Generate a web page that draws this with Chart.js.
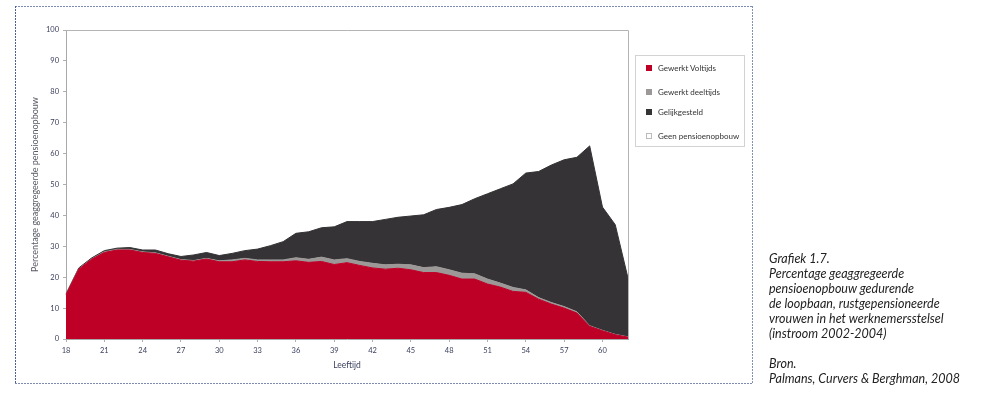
<!DOCTYPE html>
<html>
<head>
<meta charset="utf-8">
<script src="https://cdn.jsdelivr.net/npm/chart.js@4"></script>
<style>
  body { margin: 0; background: #fff; }
  #wrap { position: relative; width: 984px; height: 398px; overflow: hidden; }
  #chartBox { position: absolute; left: 0; top: 0; width: 984px; height: 398px; }
  .edge { position: absolute; }
  .h { height: 1px; background: repeating-linear-gradient(90deg, #7d8bb3 0 2px, transparent 2px 3px); }
  .v { width: 1px; background: repeating-linear-gradient(180deg, #4f5f90 0 2px, transparent 2px 3px); }
  #legend { position: absolute; left: 635px; top: 55px; width: 108px; height: 90px;
            border: 1px solid #d2d2d2; font-family: Lato, sans-serif; font-size: 8px; color: #333; }
  .item { position: absolute; left: 10px; white-space: nowrap; line-height: 10px; }
  .item span { display: inline-block; width: 6px; height: 6px; margin-right: 6px; vertical-align: 0px; box-sizing: border-box; }
  #caption { position: absolute; left: 769px; top: 251px; font-family: Lato, sans-serif; font-style: italic;
             font-size: 12.5px; line-height: 15px; color: #222; white-space: nowrap; }
</style>
</head>
<body>
<div id="wrap">
  <div class="edge h" style="left:15px; top:6px; width:738px;"></div>
  <div class="edge h" style="left:15px; top:383px; width:738px;"></div>
  <div class="edge v" style="left:15px; top:6px; height:378px;"></div>
  <div class="edge v" style="left:752px; top:6px; height:378px; background: repeating-linear-gradient(180deg, #8390b8 0 2px, transparent 2px 3px);"></div>
  <div id="chartBox"><canvas id="pensionChart"></canvas></div>
  <div id="legend"></div>
  <div id="caption">
    Grafiek 1.7.<br>
    Percentage geaggregeerde<br>
    pensioenopbouw gedurende<br>
    de loopbaan, rustgepensioneerde<br>
    vrouwen in het werknemersstelsel<br>
    (instroom 2002-2004)<br>
    <br>
    Bron.<br>
    Palmans, Curvers &amp; Berghman, 2008
  </div>
</div>
<script>
// Leeftijd 18 t/m 62
const ages = [18, 19, 20, 21, 22, 23, 24, 25, 26, 27, 28, 29, 30, 31, 32, 33, 34, 35, 36, 37, 38, 39, 40,
              41, 42, 43, 44, 45, 46, 47, 48, 49, 50, 51, 52, 53, 54, 55, 56, 57, 58, 59, 60, 61, 62];

const voltijds = [14.3, 22.6, 25.8, 28.0, 28.8, 28.8, 28.0, 27.7, 26.6, 25.5, 25.2, 25.9, 25.0, 25.0, 25.6,
                  25.1, 25.0, 25.0, 25.3, 24.8, 25.1, 24.1, 24.7, 23.8, 23.0, 22.6, 22.9, 22.4, 21.5, 21.5,
                  20.6, 19.4, 19.4, 17.8, 16.8, 15.4, 15.1, 12.9, 11.3, 10.0, 8.4, 4.1, 2.7, 1.4, 0.6];

const deeltijds = [0.1, 0.1, 0.1, 0.2, 0.2, 0.2, 0.2, 0.2, 0.2, 0.2, 0.2, 0.2, 0.3, 0.6, 0.5,
                   0.5, 0.6, 0.6, 1.0, 1.0, 1.4, 1.5, 1.3, 1.3, 1.5, 1.4, 1.3, 1.6, 1.6, 1.9,
                   1.8, 1.9, 1.7, 1.6, 1.3, 1.3, 0.8, 0.5, 0.5, 0.5, 0.4, 0.2, 0.1, 0.1, 0.1];

const gelijkgesteld = [0.2, 0.3, 0.3, 0.4, 0.4, 0.6, 0.6, 0.9, 0.8, 1.0, 1.8, 1.9, 1.7, 2.1, 2.5,
                       3.5, 4.6, 5.9, 7.9, 8.9, 9.5, 10.7, 12.0, 12.9, 13.5, 14.7, 15.2, 15.8, 17.1, 18.5,
                       20.2, 22.2, 24.3, 27.6, 30.5, 33.5, 37.8, 40.8, 44.5, 47.5, 50.0, 58.2, 39.9, 35.5, 19.0];

const yTicks = [0, 10, 20, 30, 40, 50, 60, 70, 80, 90, 100];

const seriesNames = ['Gewerkt Voltijds', 'Gewerkt deeltijds', 'Gelijkgesteld', 'Geen pensioenopbouw'];
const seriesColors = ['#be0027', '#9c9898', '#353335', '#ffffff'];

// legend (html, like the original boxed legend)
const legendTops = [7, 31, 51, 75];
const legend = document.getElementById('legend');
seriesNames.forEach(function(name, i) {
    const row = document.createElement('div');
    row.className = 'item';
    row.style.top = legendTops[i] + 'px';
    const sw = document.createElement('span');
    sw.style.background = seriesColors[i];
    if (i === 3) sw.style.border = '1px solid #bbb';
    row.appendChild(sw);
    row.appendChild(document.createTextNode(name));
    legend.appendChild(row);
});

// grey frame round the plot area
const frame = {
    id: 'frame',
    afterDraw: function(chart) {
        const a = chart.chartArea;
        const c = chart.ctx;
        c.save();
        c.strokeStyle = '#b4b4b4';
        c.lineWidth = 1;
        c.beginPath();
        c.moveTo(a.left, a.top + 0.5);
        c.lineTo(a.right + 0.5, a.top + 0.5);
        c.lineTo(a.right + 0.5, a.bottom);
        c.stroke();
        c.restore();
    }
};

const tickFont = { family: 'Lato, sans-serif', size: 7.5 };

const ctx = document.getElementById('pensionChart').getContext('2d');
const pensionChart = new Chart(ctx, {
    type: 'line',
    data: {
        labels: ages,
        datasets: [
            { label: seriesNames[0], data: voltijds, backgroundColor: seriesColors[0], borderColor: seriesColors[0], fill: 'origin' },
            { label: seriesNames[1], data: deeltijds, backgroundColor: seriesColors[1], borderColor: seriesColors[1], fill: '-1' },
            { label: seriesNames[2], data: gelijkgesteld, backgroundColor: seriesColors[2], borderColor: seriesColors[2], fill: '-1' }
        ]
    },
    options: {
        responsive: true,
        maintainAspectRatio: false,
        animation: false,
        elements: {
            point: { radius: 0 },
            line: { borderWidth: 1, tension: 0 }
        },
        layout: { padding: { left: 30, top: 30, right: 356, bottom: 26 } },
        plugins: {
            legend: { display: false },
            tooltip: { enabled: false }
        },
        scales: {
            x: {
                offset: false,
                grid: {
                    drawOnChartArea: false,
                    tickLength: 3,
                    tickColor: function(c) { return c.index % 3 === 0 ? '#b0b0b0' : 'transparent'; }
                },
                border: { color: '#a8a8a8' },
                ticks: {
                    autoSkip: false,
                    maxRotation: 0,
                    padding: 4,
                    color: '#3a3f5c',
                    font: tickFont,
                    callback: function(v, i) { return i % 3 === 0 ? ages[i] : ''; }
                },
                title: {
                    display: true,
                    text: 'Leeftijd',
                    color: '#3a3f5c',
                    font: { family: 'Lato, sans-serif', size: 8.5 },
                    padding: 2
                },
                afterFit: function(s) { s.height = 33; }
            },
            y: {
                stacked: true,
                min: 0,
                max: 100,
                afterBuildTicks: function(s) { s.ticks = yTicks.map(function(v) { return { value: v }; }); },
                grid: { drawOnChartArea: false, tickLength: 3, color: '#b0b0b0' },
                border: { color: '#a8a8a8' },
                ticks: { padding: 4, color: '#3a3f5c', font: tickFont },
                title: {
                    display: true,
                    text: 'Percentage geaggregeerde pensioenopbouw',
                    color: '#5a5a66',
                    font: { family: 'Lato, sans-serif', size: 9 },
                    padding: 0
                },
                afterFit: function(s) { s.width = 36; }
            }
        }
    },
    plugins: [frame]
});
</script>
</body>
</html>
